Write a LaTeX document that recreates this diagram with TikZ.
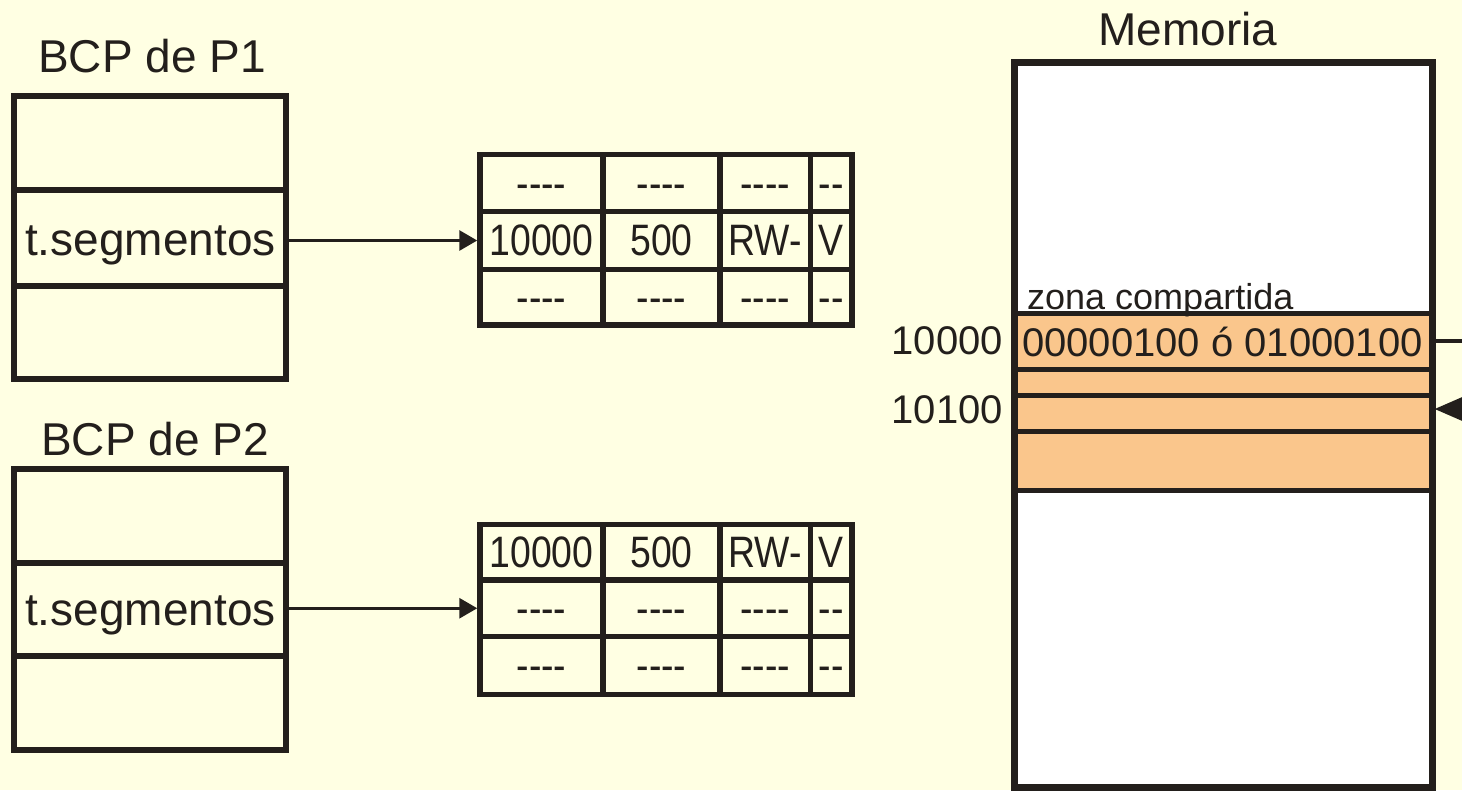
\documentclass[tikz,border=0pt]{standalone}
\usepackage{fontspec}
\setmainfont{Liberation Sans}
\usetikzlibrary{arrows.meta}
\definecolor{bg}{HTML}{FFFFE3}
\definecolor{ink}{HTML}{231F1C}
\definecolor{zone}{HTML}{FAC68C}
\tikzset{
  box/.style={draw=ink, line width=6pt, inner sep=0pt, rectangle},
  cell/.style={draw=ink, line width=5.5pt, inner sep=0pt, text height=30pt, text depth=0pt,
               font=\fontsize{44}{48}\selectfont, text=ink},
  zrow/.style={draw=ink, fill=zone, line width=5pt, inner sep=0pt, minimum width=417.5pt},
  lbl/.style={inner sep=0pt, text=ink, font=\fontsize{46}{52}\selectfont},
  mlbl/.style={inner sep=0pt, text=ink, font=\fontsize{40}{46}\selectfont},
  arr/.style={draw=ink, line width=3pt, -{Triangle[length=18pt,width=20pt]}},
  arrin/.style={draw=ink, line width=4pt, -{Triangle[length=28pt,width=23pt]}},
  link/.style={draw=ink, line width=4pt},
}
\newcommand{\sq}[1]{\scalebox{0.85}[1]{#1}}
\newcommand{\rayas}{-{}-{}-{}-}
\newcommand{\rayita}{-{}-}
% one row of a segment table: name, y centre, height, four texts
\newcommand{\segrow}[7]{%
  \node[cell, minimum width=123pt, minimum height=#3pt] (#1c1) at (541.5,#2) {\sq{#4}};
  \node[cell, minimum width=117pt, minimum height=#3pt] (#1c2) at (661.5,#2) {\sq{#5}};
  \node[cell, minimum width=90.5pt, minimum height=#3pt] (#1c3) at (765.25,#2) {\sq{#6}};
  \node[cell, minimum width=41.5pt, minimum height=#3pt] (#1c4) at (831.25,#2) {\sq{#7}};
}
\begin{document}
\begin{tikzpicture}[x=1pt,y=-1pt]
\useasboundingbox (0,0) rectangle (1462,790);
\clip (0,0) rectangle (1462,790);
\fill[bg] (0,0) rectangle (1462,790);

% ---------- BCP de P1 ----------
\node[lbl, anchor=base] (tit1) at (152,72) {BCP de P1};
\node[box, minimum width=271.5pt, minimum height=94pt] (b1r1) at (149.75,143) {};
\node[box, minimum width=271.5pt, minimum height=96pt] (b1r2) at (149.75,238) {};
\node[box, minimum width=271.5pt, minimum height=93pt] (b1r3) at (149.75,332.5) {};
\node[lbl, anchor=base west] (s1) at (25,255) {t.segmentos};

% ---------- BCP de P2 ----------
\node[lbl, anchor=base] (tit2) at (155,455) {BCP de P2};
\node[box, minimum width=271.5pt, minimum height=94.5pt] (b2r1) at (149.75,515.75) {};
\node[box, minimum width=271.5pt, minimum height=92.5pt] (b2r2) at (149.75,609.25) {};
\node[box, minimum width=271.5pt, minimum height=94pt] (b2r3) at (149.75,702.5) {};
\node[lbl, anchor=base west] (s2) at (25,625) {t.segmentos};

% ---------- segment table of P1 ----------
\segrow{t1r1}{183}{57}{\rayas}{\rayas}{\rayas}{\rayita}
\segrow{t1r2}{240.5}{58}{10000}{500}{RW-}{V}
\segrow{t1r3}{297.25}{55.5}{\rayas}{\rayas}{\rayas}{\rayita}

% ---------- segment table of P2 ----------
\segrow{t2r1}{552.25}{55.5}{10000}{500}{RW-}{V}
\segrow{t2r2}{608.25}{56.5}{\rayas}{\rayas}{\rayas}{\rayita}
\segrow{t2r3}{665.5}{58}{\rayas}{\rayas}{\rayas}{\rayita}

% ---------- arrows BCP -> tables ----------
\draw[arr] (b1r2.east |- t1r2c1.west) -- (t1r2c1.west);
\draw[arr] (b2r2.east |- t2r2c1.west) -- (t2r2c1.west);

% ---------- Memoria ----------
\node[lbl, anchor=base] (titm) at (1188,45) {Memoria};
\node[fill=white, inner sep=0pt, minimum width=417.5pt, minimum height=725pt] (memfill) at (1223.25,424.5) {};
\node[zrow, minimum height=56pt] (m1) at (1223.25,341) {};
\node[zrow, minimum height=26pt] (m2) at (1223.25,382) {};
\node[zrow, minimum height=36pt] (m3) at (1223.25,413) {};
\node[zrow, minimum height=59pt] (m4) at (1223.25,460.5) {};
\node[box, line width=7pt, minimum width=417.5pt, minimum height=725pt] (mem) at (1223.25,424.5) {};

\node[inner sep=0pt, text=ink, font=\fontsize{36}{40}\selectfont, anchor=base west] (zc) at (1027,309) {zona compartida};
\node[mlbl, anchor=base west] (val) at (1022,356) {00000100 ó 01000100};
\node[mlbl, anchor=base east] (a1) at (1003,354) {10000};
\node[mlbl, anchor=base east] (a2) at (1003,423) {10100};

% ---------- connectors leaving the picture on the right ----------
\coordinate (outA) at (1520,341);
\coordinate (outB) at (1520,409);
\draw[link] (m1.east) -- (outA);
\draw[arrin] (outB) -- (m3.east |- outB);
\end{tikzpicture}
\end{document}
